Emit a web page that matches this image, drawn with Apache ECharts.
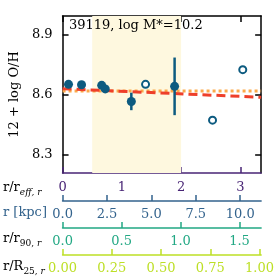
<!DOCTYPE html>
<html><head><meta charset="utf-8">
<script src="https://cdn.jsdelivr.net/npm/echarts/dist/echarts.min.js"></script>
<style>html,body{margin:0;padding:0;background:#fff}#c{width:277px;height:277px}</style>
</head><body><div id="c"></div>
<script>
// ---- data ----
const titleText = '39119, log M*=10.2';
const yTicks = [8.3, 8.6, 8.9];
const reffTicks = [0, 1, 2, 3];
const kpcTicks = [0, 2.5, 5, 7.5, 10];
const r90Ticks = [0, 0.5, 1.0, 1.5];
const r25Ticks = [0, 0.25, 0.5, 0.75, 1.0];
// filled points (r/r_eff, 12+log O/H, error)
const filledR = [0.10, 0.32, 0.66, 0.72, 1.16, 1.89];
const filledY = [8.652, 8.650, 8.647, 8.629, 8.566, 8.642];
const filledErr = [0.01, 0.01, 0.01, 0.01, 0.044, 0.145];
// open points
const openR = [1.40, 2.53, 3.04];
const openY = [8.652, 8.472, 8.726];
// fit lines
const lineR = [0, 3.35];
const redFit = [8.630, 8.587];
const orangeFit = [8.618, 8.618];
// shaded range (r/r_eff)
const shadeRange = [0.5, 2.0];

const FONT = 'DejaVu Serif';
const PURPLE = '#482475', BLUE = '#33638d', TEAL = '#22a884', LIME = '#bddf26';
const PT = '#0d5b80';

const chart = echarts.init(document.getElementById('c'), null, {renderer: 'canvas'});

function bottomAxis(color, min, max, ticks, offset, fmt, margin) {
  return {
    type: 'value', position: 'bottom', offset: offset, min: min, max: max,
    gridIndex: 0,
    axisLine: {show: true, onZero: false, lineStyle: {color: color, width: 1.5}},
    axisTick: {show: true, inside: true, length: 6, customValues: ticks, lineStyle: {color: color, width: 1.5}},
    axisLabel: {show: true, customValues: ticks, formatter: fmt, color: color, fontFamily: FONT, fontSize: 13, margin: margin},
    splitLine: {show: false}
  };
}

const subStyle = (c, italic) => ({fontFamily: FONT, fontSize: 9, color: c, fontStyle: italic ? 'italic' : 'normal', verticalAlign: 'bottom', padding: [0,0,-3,0]});
const mainStyle = (c) => ({fontFamily: FONT, fontSize: 13, color: c, verticalAlign: 'bottom'});

const option = {
  animation: false,
  backgroundColor: '#fff',
  grid: {left: 58, top: 16, width: 208, height: 157, containLabel: false},
  title: {text: titleText, left: 69, top: 19, padding: 0,
    textStyle: {fontFamily: FONT, fontSize: 13, fontWeight: 'normal', color: '#000'}},
  xAxis: [
    bottomAxis(PURPLE, 0, 3.35, reffTicks, 0, v => String(v), 8),
    {type: 'value', position: 'top', min: 0, max: 3.35,
      axisLine: {show: true, onZero: false, lineStyle: {color: '#000', width: 1.5}},
      axisTick: {show: true, inside: true, length: 6, customValues: reffTicks, lineStyle: {color: '#000', width: 1.5}},
      axisLabel: {show: false}, splitLine: {show: false}},
    bottomAxis(BLUE, 0, 11.18, kpcTicks, 28, v => v.toFixed(1), 7),
    bottomAxis(TEAL, 0, 1.683, r90Ticks, 55, v => v.toFixed(1), 7),
    bottomAxis(LIME, 0, 1.008, r25Ticks, 82, v => v.toFixed(2), 7)
  ],
  yAxis: [
    {type: 'value', min: 8.206, max: 8.996, position: 'left',
      name: '12 + log O/H', nameLocation: 'middle', nameGap: 41, nameRotate: 90,
      nameTextStyle: {fontFamily: FONT, fontSize: 13, color: '#000'},
      axisLine: {show: true, onZero: false, lineStyle: {color: '#000', width: 1.5}},
      axisTick: {show: true, inside: true, length: 6, customValues: yTicks, lineStyle: {color: '#000', width: 1.5}},
      axisLabel: {show: true, customValues: yTicks, formatter: v => v.toFixed(1), fontFamily: FONT, fontSize: 13, color: '#000', margin: 10},
      splitLine: {show: false}},
    {type: 'value', min: 8.206, max: 8.996, position: 'right',
      axisLine: {show: true, onZero: false, lineStyle: {color: '#000', width: 1.5}},
      axisTick: {show: true, inside: true, length: 6, customValues: yTicks, lineStyle: {color: '#000', width: 1.5}},
      axisLabel: {show: false}, splitLine: {show: false}}
  ],
  graphic: [
    {type: 'text', left: 3, top: 181, style: {rich: {a: mainStyle(PURPLE), b: subStyle(PURPLE, true)}, text: '{a|r/r}{b|eff, r}'}},
    {type: 'text', left: 3, top: 206, style: {text: 'r [kpc]', fontFamily: FONT, fontSize: 13, fill: BLUE}},
    {type: 'text', left: 3, top: 232, style: {rich: {a: mainStyle(TEAL), b: subStyle(TEAL, false), c: subStyle(TEAL, true)}, text: '{a|r/r}{b|90, }{c|r}'}},
    {type: 'text', left: 3, top: 260, style: {rich: {a: mainStyle(LIME), b: subStyle(LIME, false), c: subStyle(LIME, true)}, text: '{a|r/R}{b|25, }{c|r}'}}
  ],
  series: [
    {type: 'line', xAxisIndex: 0, yAxisIndex: 0, data: lineR.map((r, i) => [r, orangeFit[i]]),
      showSymbol: false, symbol: 'none', z: 2,
      lineStyle: {color: '#fba94a', width: 3, type: [3, 3]},
      markArea: {silent: true, itemStyle: {color: '#fef8df'}, data: [[{xAxis: shadeRange[0]}, {xAxis: shadeRange[1]}]]}},
    {type: 'line', xAxisIndex: 0, yAxisIndex: 0, data: lineR.map((r, i) => [r, redFit[i]]),
      showSymbol: false, symbol: 'none', z: 3,
      lineStyle: {color: '#ee3f2a', width: 3, type: [9, 5]}},
    {type: 'custom', xAxisIndex: 0, yAxisIndex: 0, z: 4,
      data: filledR.map((r, i) => [r, filledY[i] - filledErr[i], filledY[i] + filledErr[i]]),
      renderItem: function (params, api) {
        const p1 = api.coord([api.value(0), api.value(1)]);
        const p2 = api.coord([api.value(0), api.value(2)]);
        return {type: 'line', shape: {x1: p1[0], y1: p1[1], x2: p2[0], y2: p2[1]}, style: {stroke: PT, lineWidth: 2.5}};
      }},
    {type: 'scatter', xAxisIndex: 0, yAxisIndex: 0, z: 5, symbolSize: 9,
      data: filledR.map((r, i) => [r, filledY[i]]), itemStyle: {color: PT, opacity: 1}},
    {type: 'scatter', xAxisIndex: 0, yAxisIndex: 0, z: 5, symbolSize: 7,
      data: openR.map((r, i) => [r, openY[i]]), itemStyle: {color: '#fff', borderColor: PT, borderWidth: 2, opacity: 1}}
  ]
};
chart.setOption(option);
</script></body></html>
